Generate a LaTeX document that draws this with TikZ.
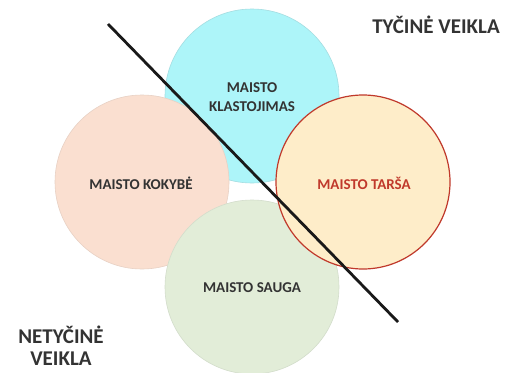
\documentclass[tikz,border=0pt]{standalone}
\usepackage{fontspec}
\setmainfont{Carlito}
\definecolor{cyanfill}{HTML}{ADF5F9}
\definecolor{peachfill}{HTML}{FADFD0}
\definecolor{greenfill}{HTML}{E2EDD8}
\definecolor{orangefill}{HTML}{FEEDC9}
\definecolor{redline}{HTML}{C0392B}
\definecolor{labeltext}{HTML}{333333}
\begin{document}
\begin{tikzpicture}[x=1pt,y=-1pt,
  bubble/.style={circle,minimum size=174pt,inner sep=0pt,line width=0.6pt},
  lbl/.style={font=\bfseries\fontsize{15}{19}\selectfont,text=labeltext,align=center},
  side/.style={font=\bfseries\fontsize{21}{22}\selectfont,text=labeltext,align=center}]
\useasboundingbox (0,0) rectangle (513,372);
\fill[white] (0,0) rectangle (513,372);
\node[bubble,fill=cyanfill,draw=cyanfill!80!gray] (klast) at (252,96) {};
\node[bubble,fill=peachfill,draw=peachfill!85!gray] (kokybe) at (142,182) {};
\node[bubble,fill=greenfill,draw=greenfill!85!gray] (sauga) at (252,287) {};
\node[bubble,fill=orangefill,draw=redline,line width=1.2pt] (tarsa) at (363,182) {};
\node[lbl] at (252,97.5) {MAISTO\\KLASTOJIMAS};
\node[lbl] at (141,183) {MAISTO KOKYBĖ};
\node[lbl] at (252,288) {MAISTO SAUGA};
\node[lbl,text=redline] at (364,183) {MAISTO TARŠA};
\coordinate (ls) at (108,24);
\coordinate (le) at (398,322);
\draw[line width=2.8pt,black!90] (ls) -- (le);
\node[side] (tyc) at (436,25) {TYČINĖ VEIKLA};
\node[side] (netyc) at (61,346) {NETYČINĖ\\VEIKLA};
\end{tikzpicture}
\end{document}
